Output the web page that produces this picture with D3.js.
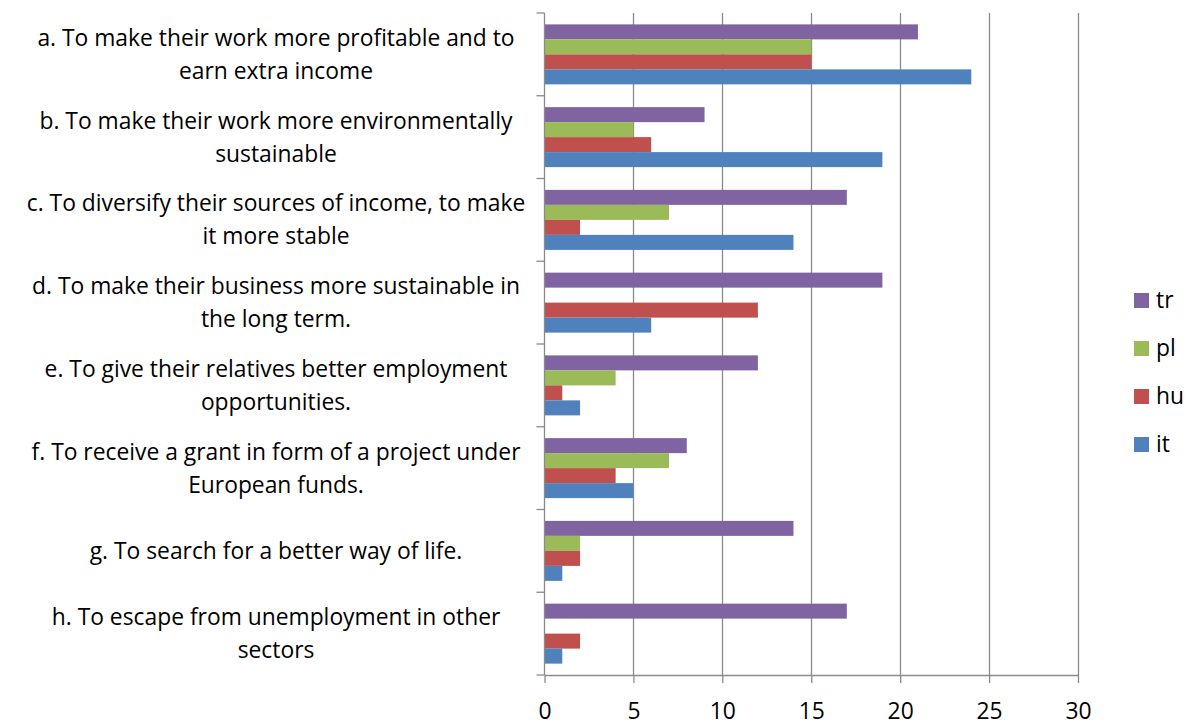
<!DOCTYPE html>
<html><head><meta charset="utf-8">
<script src="https://cdn.jsdelivr.net/npm/d3@7"></script>
<style>body{margin:0;background:#fff}svg{display:block}text{font-family:"Open Sans",Lato,sans-serif;fill:#000}</style>
</head><body>
<svg id="c" width="1192" height="727"></svg>
<script>
const categories = ["a","b","c","d","e","f","g","h"];
const categoryLabels = [
  ["a. To make their work more profitable and to","earn extra income"],
  ["b. To make their work more environmentally","sustainable"],
  ["c. To diversify their sources of income, to make","it more stable"],
  ["d. To make their business more sustainable in","the long term."],
  ["e. To give their relatives better employment","opportunities."],
  ["f. To receive a grant in form of a project under","European funds."],
  ["g. To search for a better way of life."],
  ["h. To escape from unemployment in other","sectors"]
];
const seriesNames = ["tr","pl","hu","it"];
const tr = [21, 9, 17, 19, 12, 8, 14, 17];
const pl = [15, 5, 7, 0, 4, 7, 2, 0];
const hu = [15, 6, 2, 12, 1, 4, 2, 2];
const it = [24, 19, 14, 6, 2, 5, 1, 1];
const xTicks = [0,5,10,15,20,25,30];
const colors = {tr:"#8064A2", pl:"#9BBB59", hu:"#C0504D", it:"#4F81BD"};
const seriesValues = {tr, pl, hu, it};

const svg = d3.select("#c");
const x = d3.scaleLinear().domain([0,30]).range([544.5,1078]);
const y = d3.scaleBand().domain(categories).range([13,675]).paddingInner(0.275).paddingOuter(0.1375);
const ys = d3.scaleBand().domain(seriesNames).range([0,y.bandwidth()]);
const grey = "#8a8a8a";

// fit font size so that the long first lines average ~488px
const probe = svg.append("text").attr("font-size",22);
probe.text(categoryLabels[0][0]); const wa = probe.node().getComputedTextLength();
probe.text(categoryLabels[2][0]); const wc = probe.node().getComputedTextLength();
probe.remove();
const fs = Math.min(26, 22*488/((wa+wc)/2));

// gridlines
svg.append("g").selectAll("line").data(xTicks.slice(1)).join("line")
  .attr("x1",d=>Math.round(x(d))+0.5).attr("x2",d=>Math.round(x(d))+0.5)
  .attr("y1",13).attr("y2",675).attr("stroke",grey).attr("stroke-width",1.3);

// bars
const g = svg.append("g");
categories.forEach((c,i)=>{
  seriesNames.forEach(s=>{
    const v = seriesValues[s][i];
    if(v<=0) return;
    g.append("rect").attr("x",x(0)).attr("y",y(c)+ys(s))
      .attr("width",x(v)-x(0)).attr("height",ys.bandwidth()).attr("fill",colors[s]);
  });
});

// x axis
const xAxis = d3.axisBottom(x).tickValues(xTicks).tickSize(8).tickSizeOuter(0);
const xa = svg.append("g").attr("transform","translate(0,675)").call(xAxis);
xa.select(".domain").attr("stroke",grey).attr("stroke-width",1.3);
xa.selectAll(".tick line").attr("stroke",grey).attr("stroke-width",1.3);
xa.selectAll(".tick text").attr("font-size",fs).attr("font-family","Open Sans")
  .attr("fill","#000").attr("y",44).attr("dy",null);

// y axis line & ticks at category boundaries
svg.append("line").attr("x1",x(0)).attr("x2",x(0)).attr("y1",13).attr("y2",675).attr("stroke",grey).attr("stroke-width",1.3);
const step = y.step();
const bounds = d3.range(categories.length+1).map(i=>13+i*step);
svg.append("g").selectAll("line").data(bounds).join("line")
  .attr("x1",x(0)-8).attr("x2",x(0)).attr("y1",d=>d).attr("y2",d=>d)
  .attr("stroke",grey).attr("stroke-width",1.3);

// category labels
categories.forEach((c,i)=>{
  const lines = categoryLabels[i];
  const cy = y(c)+y.bandwidth()/2;
  const lh = 33;
  const t = svg.append("text").attr("text-anchor","middle").attr("font-size",fs);
  lines.forEach((l,j)=>{
    t.append("tspan").attr("x",276).attr("y",cy + 8 + (j-(lines.length-1)/2)*lh).text(l);
  });
});

// legend
const leg = svg.append("g");
seriesNames.forEach((s,i)=>{
  const cy = 300 + i*48;
  leg.append("rect").attr("x",1134).attr("y",cy-7).attr("width",15).attr("height",15).attr("fill",colors[s]);
  leg.append("text").attr("x",1156).attr("y",cy+8).attr("font-size",fs).text(s);
});
</script>
</body></html>
